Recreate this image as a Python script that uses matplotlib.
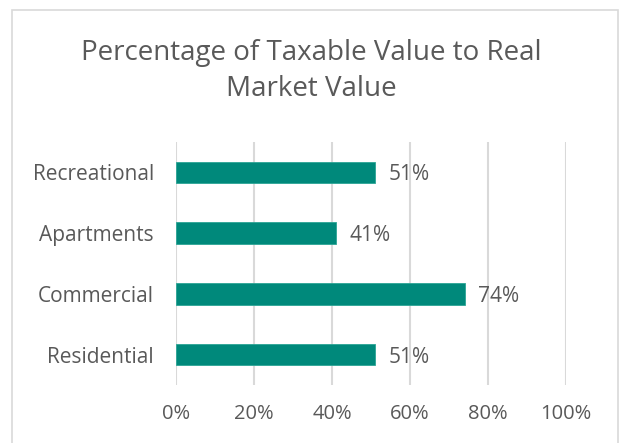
import matplotlib.pyplot as plt
from matplotlib.patches import Rectangle

categories = ['Residential', 'Commercial', 'Apartments', 'Recreational']
values = [51, 74, 41, 51]
ticks = [0, 20, 40, 60, 80, 100]

plt.rcParams['font.family'] = ['Open Sans', 'DejaVu Sans']
text_color = '#595959'
bar_color = '#00897B'

fig = plt.figure(figsize=(6.23, 4.43), dpi=100)
fig.patches.append(Rectangle((12 / 623, -0.05), 606 / 623, 1.05 - 10 / 443,
                             transform=fig.transFigure, fill=False,
                             edgecolor='#D9D9D9', linewidth=1.2))

ax = fig.add_axes([176 / 623, 58 / 443, 390 / 623, 243 / 443])
y = range(len(categories))
ax.barh(y, values, height=0.35, color=bar_color, edgecolor='#2BA595',
        linewidth=0.6, zorder=3)
for i, v in enumerate(values):
    ax.annotate(f'{v}%', (v, i), xytext=(10, 0), textcoords='offset points',
                va='center_baseline', ha='left', fontsize=15, color=text_color)

ax.set_xlim(0, 100)
ax.set_ylim(-0.5, 3.5)
ax.set_xticks(ticks)
ax.set_xticklabels([f'{t}%' for t in ticks], fontsize=14.5, color=text_color)
ax.set_yticks(list(y))
ax.set_yticklabels(categories, fontsize=15, color=text_color)
ax.tick_params(length=0, pad=16)
ax.tick_params(axis='x', pad=14)
ax.grid(axis='x', color='#D9D9D9', linewidth=1.5, zorder=0)
for s in ax.spines.values():
    s.set_visible(False)

fig.text(0.5, 1 - 71 / 443, 'Percentage of Taxable Value to Real\nMarket Value',
         ha='center', va='center', fontsize=20, color=text_color,
         linespacing=1.35)

fig.savefig('out.png', dpi=100)
